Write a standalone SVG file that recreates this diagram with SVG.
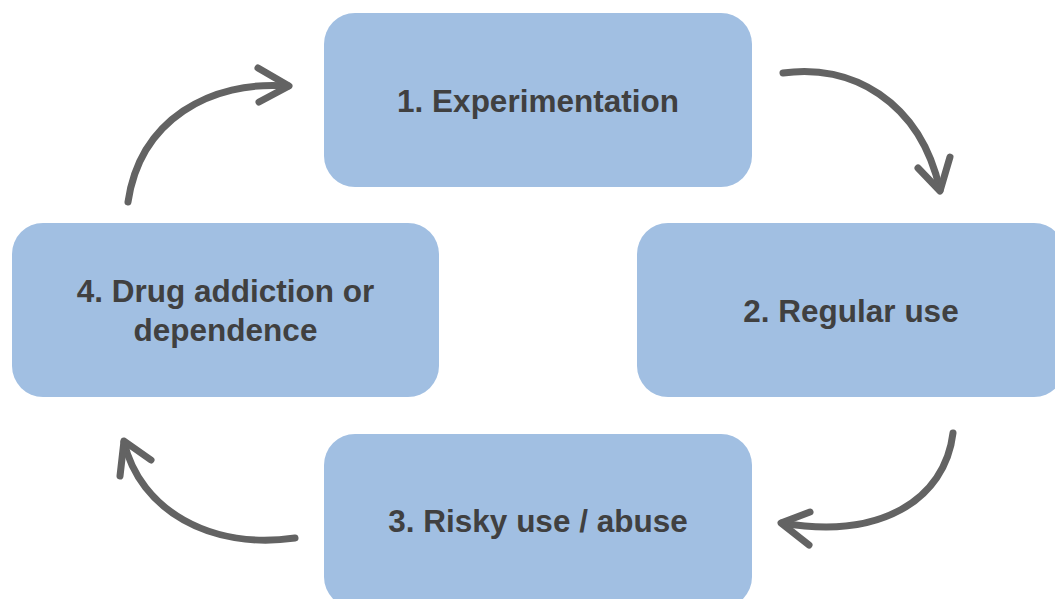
<svg xmlns="http://www.w3.org/2000/svg" width="1055" height="599" viewBox="0 0 1055 599">
<style>
.box{fill:#A1BFE2;}
.lbl{font-family:"Liberation Sans",Arial,sans-serif;font-weight:bold;font-size:31.5px;fill:#404040;text-anchor:middle;}
.arr{fill:none;stroke:#636363;stroke-width:7;stroke-linecap:round;stroke-linejoin:round;}
</style>
<rect width="1055" height="599" fill="#FFFFFF"/>
<g id="node1"><rect class="box" x="324" y="13" width="428" height="174" rx="31"/><text class="lbl" x="538" y="112">1. Experimentation</text></g>
<g id="node2"><rect class="box" x="637" y="223" width="428" height="174" rx="31"/><text class="lbl" x="851" y="322">2. Regular use</text></g>
<g id="node3"><rect class="box" x="324" y="434" width="428" height="174" rx="31"/><text class="lbl" x="538" y="532">3. Risky use / abuse</text></g>
<g id="node4"><rect class="box" x="12" y="223" width="427" height="174" rx="31"/><text class="lbl" x="225.5" y="302">4. Drug addiction or</text><text class="lbl" x="225.5" y="341">dependence</text></g>
<g id="connectors">
<path class="arr" d="M783,73 C850,63 920,100 940,190"/>
<path class="arr" d="M918,168 L940,191 L950,157"/>
<path class="arr" d="M953,433 C945,500 880,540 782,523"/>
<path class="arr" d="M810,512 L781,523 L809,545"/>
<path class="arr" d="M295,538 C210,550 140,510 124,442"/>
<path class="arr" d="M120,476 L124,441 L151,460"/>
<path class="arr" d="M128,202 C140,120 210,80 288,86"/>
<path class="arr" d="M258,68 L289,86 L259,102"/>
</g>
</svg>
